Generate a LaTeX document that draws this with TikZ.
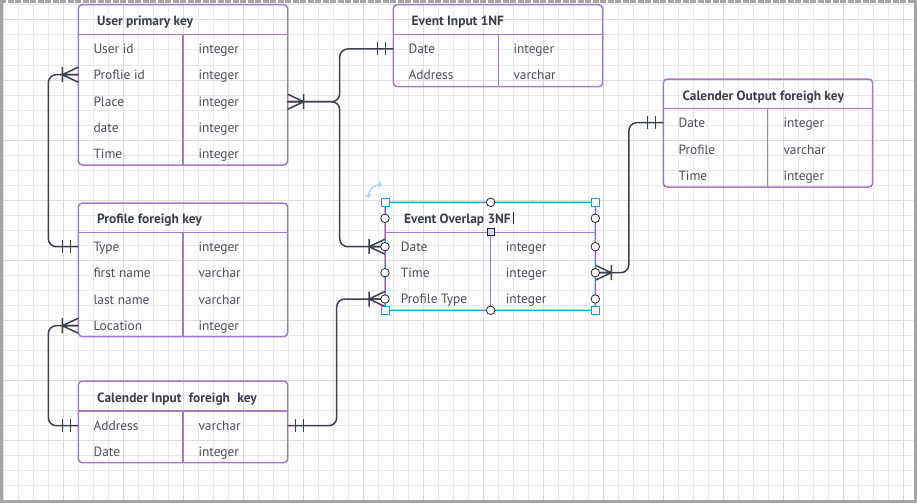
\documentclass[tikz,border=0pt]{standalone}
\usepackage{fontspec}
\setmainfont{PT Sans}
\usetikzlibrary{positioning,calc,arrows.meta}
\definecolor{tablepurple}{RGB}{166,124,193}
\definecolor{fieldgray}{RGB}{74,79,90}
\definecolor{titlegray}{RGB}{58,63,74}
\definecolor{conngray}{RGB}{60,66,77}
\definecolor{selblue}{RGB}{30,155,215}
\definecolor{rotblue}{RGB}{170,210,240}
\definecolor{gridminor}{RGB}{234,234,234}
\definecolor{gridmajor}{RGB}{220,220,220}
\definecolor{framegray}{RGB}{165,165,165}
\definecolor{handlenavy}{RGB}{30,30,110}
\definecolor{handlefill}{RGB}{215,215,235}

\tikzset{
  tbl/.style={draw=tablepurple, line width=1.5pt, rounded corners=4pt, inner sep=0pt, outer sep=0pt, anchor=north west},
  sepline/.style={draw=tablepurple, line width=1.5pt},
  field/.style={anchor=west, inner sep=0pt, text height=9.5pt, text depth=0pt, text=fieldgray, font=\fontsize{13.4}{15}\selectfont},
  tabletitle/.style={field, text=titlegray, font=\fontsize{13.4}{15}\selectfont\bfseries},
  conn/.style={draw=conngray, line width=1.5pt, rounded corners=8pt},
  markline/.style={draw=conngray, line width=1.5pt},
  manymark/.pic={\draw[markline] (0,-7.5) -- (16,0) -- (0,7.5) (0,0) -- (16,0) (16,-7.5) -- (16,7.5);},
  onemark/.pic={\draw[markline] (8,-6.5) -- (8,6.5) (16,-6.5) -- (16,6.5);},
  cornerhandle/.style={draw=selblue, fill=white, line width=1pt, minimum size=8pt, inner sep=0pt},
  knob/.style={circle, draw=black!85, fill=white, line width=0.8pt, minimum size=8.5pt, inner sep=0pt},
}

\begin{document}
\begin{tikzpicture}[x=1pt,y=-1pt]
\useasboundingbox (0,0) rectangle (917,503);
\fill[white] (0,0) rectangle (917,503);
\foreach \gx in {3,18,...,903} \draw[gridminor, line width=1pt] (\gx,3) -- (\gx,500);
\foreach \gy in {5,20,...,495} \draw[gridminor, line width=1pt] (3,\gy) -- (914,\gy);
\foreach \gx in {3,63,...,903} \draw[gridmajor, line width=1pt] (\gx,3) -- (\gx,500);
\foreach \gy in {20,80,...,440} \draw[gridmajor, line width=1pt] (3,\gy) -- (914,\gy);
\fill[framegray] (0,0) rectangle (3,503);
\fill[framegray] (914,0) rectangle (917,503);
\fill[framegray] (0,500) rectangle (917,503);
\draw[framegray, line width=3pt, dash pattern=on 6.3pt off 1.2pt] (0,1.5) -- (917,1.5);

\node[tbl, minimum width=209.4, minimum height=160.3] (user) at (78.3,4.7) {};
\draw[sepline] (78.3,34.3) -- (287.7,34.3) (183,34.3) -- (183,165);
\node[tabletitle] (uTitle) at (97,21) {User primary key};
\node[field] (uId) at (93.3,49) {User id};
\node[field] (uIdT) at (198.3,49) {integer};
\node[field] (uPid) at (93.3,74.7) {Proflie id};
\node[field] (uPidT) at (198.3,74.7) {integer};
\node[field] (uPlace) at (93.3,101.7) {Place};
\node[field] (uPlaceT) at (198.3,101.7) {integer};
\node[field] (uDate) at (93.3,127.7) {date};
\node[field] (uDateT) at (198.3,127.7) {integer};
\node[field] (uTime) at (93.3,153.7) {Time};
\node[field] (uTimeT) at (198.3,153.7) {integer};

\node[tbl, minimum width=209.4, minimum height=82] (ev1) at (393.3,4.7) {};
\draw[sepline] (393.3,34.3) -- (602.7,34.3) (498.3,34.3) -- (498.3,86.7);
\node[tabletitle] (eTitle) at (411.5,21) {Event Input 1NF};
\node[field] (eDate) at (408.3,49) {Date};
\node[field] (eDateT) at (513.3,49) {integer};
\node[field] (eAddr) at (408.3,74.3) {Address};
\node[field] (eAddrT) at (513.3,74.3) {varchar};

\node[tbl, minimum width=209.4, minimum height=108] (cout) at (663.3,79) {};
\draw[sepline] (663.3,108.7) -- (872.7,108.7) (767.7,108.7) -- (767.7,187);
\node[tabletitle] (coTitle) at (682.3,95.7) {Calender Output foreigh key};
\node[field] (coDate) at (678.3,122.7) {Date};
\node[field] (coDateT) at (783.3,122.7) {integer};
\node[field] (coProf) at (678.3,149.3) {Profile};
\node[field] (coProfT) at (783.3,149.3) {varchar};
\node[field] (coTime) at (678.3,175.7) {Time};
\node[field] (coTimeT) at (783.3,175.7) {integer};

\node[tbl, minimum width=209.4, minimum height=133.7] (prof) at (78.3,203) {};
\draw[sepline] (78.3,232.3) -- (287.7,232.3) (183,232.3) -- (183,336.7);
\node[tabletitle] (pTitle) at (97,219) {Profile foreigh key};
\node[field] (pType) at (93.3,246.7) {Type};
\node[field] (pTypeT) at (198.3,246.7) {integer};
\node[field] (pFirst) at (93.3,272.7) {first name};
\node[field] (pFirstT) at (198.3,272.7) {varchar};
\node[field] (pLast) at (93.3,299.7) {last name};
\node[field] (pLastT) at (198.3,299.7) {varchar};
\node[field] (pLoc) at (93.3,325.7) {Location};
\node[field] (pLocT) at (198.3,325.7) {integer};

\node[tbl, minimum width=209.4, minimum height=81.7] (cin) at (78.3,381) {};
\draw[sepline] (78.3,411) -- (287.7,411) (183,411) -- (183,462.7);
\node[tabletitle] (ciTitle) at (97,397.7) {Calender Input\hspace{4pt} foreigh\hspace{4pt} key};
\node[field] (ciAddr) at (93.3,425.7) {Address};
\node[field] (ciAddrT) at (198.3,425.7) {varchar};
\node[field] (ciDate) at (93.3,451.7) {Date};
\node[field] (ciDateT) at (198.3,451.7) {integer};

\node[tbl, minimum width=210.3, minimum height=108] (ov) at (385,202.3) {};
\coordinate (ovsplit) at (490.7,232.3);
\draw[sepline] (ov.west |- ovsplit) -- (ov.east |- ovsplit) (ovsplit) -- (ovsplit |- ov.south);
\node[tabletitle] (oTitle) at (404,218.3) {Event Overlap 3NF};
\node[field] (oDate) at (400.7,246.7) {Date};
\node[field] (oDateT) at (505.7,246.7) {integer};
\node[field] (oTime) at (400.7,272.7) {Time};
\node[field] (oTimeT) at (505.7,272.7) {integer};
\node[field] (oPtype) at (400.7,299) {Profile Type};
\node[field] (oPtypeT) at (505.7,299) {integer};

\draw[conn] (user.west |- uPid) -- ++(-30,0) |- (prof.west |- pType);
\draw[conn] (user.east |- uPlace) -- ++(52,0) |- (ev1.west |- eDate);
\draw[conn] (user.east |- uPlace) -- ++(52,0) |- (ov.west |- oDate);
\draw[conn] (cin.west |- ciAddr) -- ++(-30,0) |- (prof.west |- pLoc);
\draw[conn] (cin.east |- ciAddr) -- ++(49,0) |- (ov.west |- oPtype);
\draw[conn] (ov.east |- oTime) -- ++(33.5,0) |- (cout.west |- coDate);

\pic[rotate=180] at (user.west |- uPid) {manymark};
\pic[rotate=180] at (prof.west |- pType) {onemark};
\pic at (user.east |- uPlace) {manymark};
\pic[rotate=180] at (ev1.west |- eDate) {onemark};
\pic[rotate=180] at (ov.west |- oDate) {manymark};
\pic[rotate=180] at (cin.west |- ciAddr) {onemark};
\pic[rotate=180] at (prof.west |- pLoc) {manymark};
\pic at (cin.east |- ciAddr) {onemark};
\pic[rotate=180] at (ov.west |- oPtype) {manymark};
\pic at (ov.east |- oTime) {manymark};
\pic[rotate=180] at (cout.west |- coDate) {onemark};

\draw[selblue, line width=1pt] (ov.north west) rectangle (ov.south east);
\draw[titlegray!60!black, line width=0.9pt] ([xshift=2pt]oTitle.east) +(0,-6.5) -- +(0,6);
\draw[rotblue, line width=1.4pt, {Straight Barb[length=2.5pt,width=5pt]}-{Straight Barb[length=2.5pt,width=5pt]}] (368.5,198) to[bend left=55] (382,185);
\foreach \hp in {ov.north west, ov.north east, ov.south west, ov.south east}
  \node[cornerhandle] at (\hp) {};
\foreach \kp in {oTitle, oDate, oTime, oPtype} {
  \node[knob] at (ov.west |- \kp) {};
  \node[knob] at (ov.east |- \kp) {};
}
\node[knob] at (ovsplit |- ov.north) {};
\node[knob] at (ovsplit |- ov.south) {};
\node[draw=handlenavy, fill=handlefill, line width=0.9pt, minimum size=7pt, inner sep=0pt] (ovmid) at (ovsplit) {};
\end{tikzpicture}
\end{document}
